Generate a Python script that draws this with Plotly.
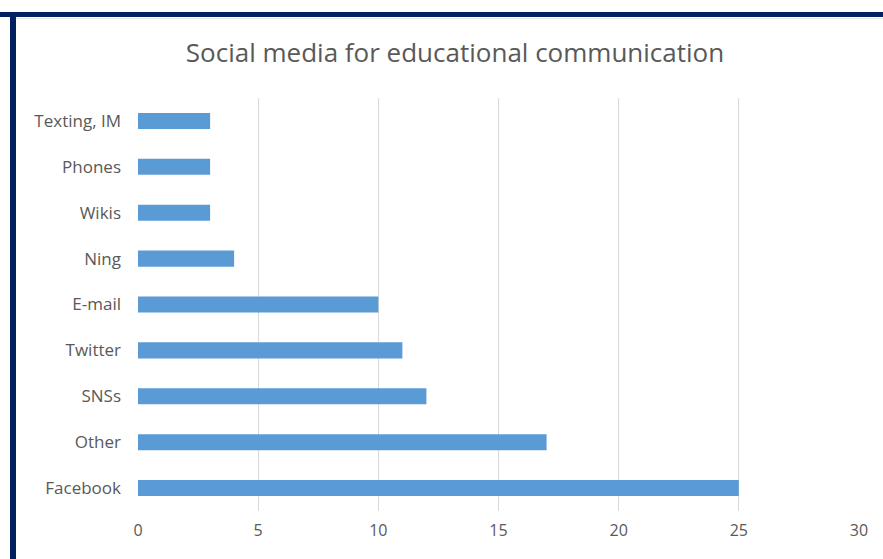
import plotly.graph_objects as go

categories = ["Facebook", "Other", "SNSs", "Twitter", "E-mail", "Ning", "Wikis", "Phones", "Texting, IM"]
values = [25, 17, 12, 11, 10, 4, 3, 3, 3]
x_ticks = [0, 5, 10, 15, 20, 25, 30]

W, H = 883, 559
L, R, T, B = 138, 24, 98, 48
pw, ph = W - L - R, H - T - B

def px(xp):
    return (xp - L) / pw

def py(yp):
    return (H - B - yp) / ph

fig = go.Figure(go.Bar(
    x=values, y=categories, orientation="h",
    marker=dict(color="#5B9BD5", line=dict(width=0)),
    width=0.35,
))

fig.update_layout(
    width=W, height=H,
    margin=dict(l=L, r=R, t=T, b=B),
    paper_bgcolor="white", plot_bgcolor="white",
    title=dict(text="Social media for educational communication",
               x=455 / W, xanchor="center", y=1 - 53 / H, yanchor="middle",
               font=dict(family="Open Sans", size=26, color="#595959")),
    font=dict(family="Open Sans", size=16, color="#595959"),
    showlegend=False,
    xaxis=dict(range=[0, 30], tickvals=x_ticks, showgrid=True, gridcolor="#D9D9D9",
               gridwidth=1, zeroline=False, showline=False, ticks="",
               ticklabelstandoff=8,
               tickfont=dict(size=16, color="#595959")),
    yaxis=dict(categoryorder="array", categoryarray=categories, showgrid=False,
               zeroline=False, showline=False, ticks="", ticklabelstandoff=16,
               tickfont=dict(size=17, color="#595959")),
    shapes=[
        dict(type="line", xref="paper", yref="paper", x0=px(0), x1=px(W), y0=py(14.5), y1=py(14.5),
             line=dict(color="#002060", width=5)),
        dict(type="line", xref="paper", yref="paper", x0=px(13), x1=px(13), y0=py(12), y1=py(H),
             line=dict(color="#002060", width=6)),
        dict(type="line", xref="paper", yref="paper", x0=px(16), x1=px(W), y0=py(18.5), y1=py(18.5),
             line=dict(color="#E6E6E6", width=1)),
    ],
)

fig.write_html("out.html")
